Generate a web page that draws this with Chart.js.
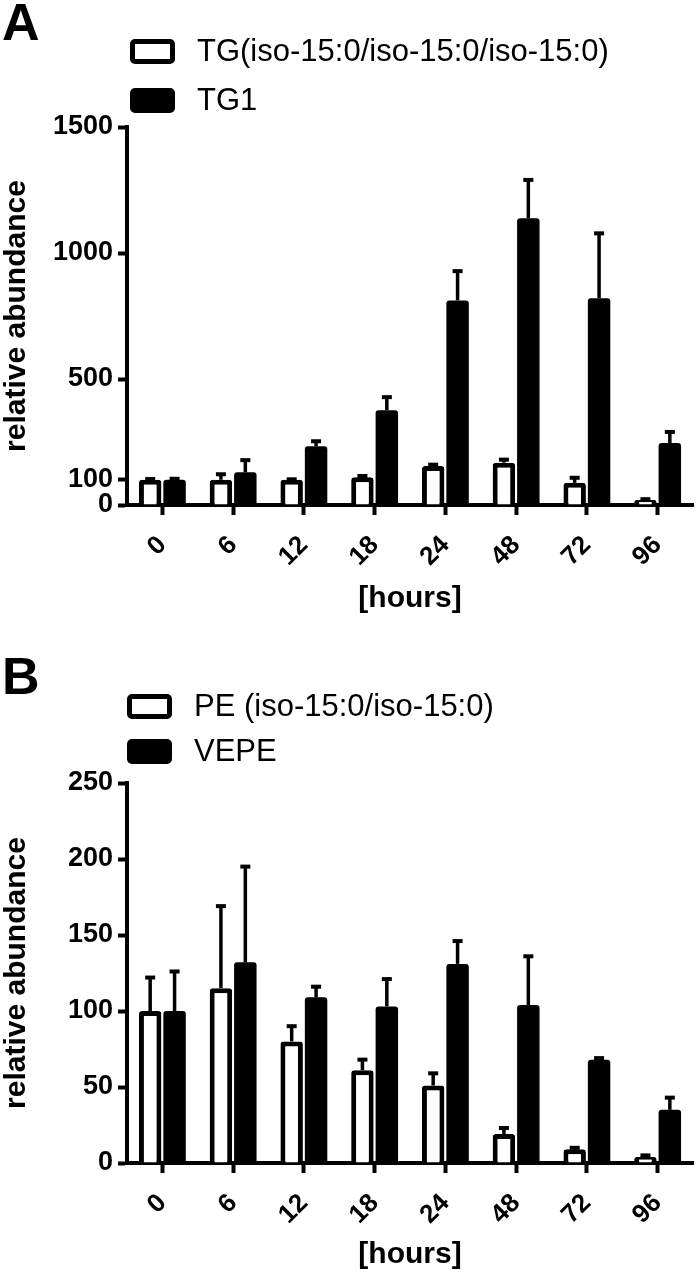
<!DOCTYPE html>
<html>
<head>
<meta charset="utf-8">
<script src="https://cdn.jsdelivr.net/npm/chart.js@4.4.1/dist/chart.umd.min.js"></script>
<style>
  body { margin: 0; background: #fff; font-family: "Liberation Sans", Arial, sans-serif; }
  #wrap { position: relative; width: 700px; height: 1273px; overflow: hidden; }
  canvas { position: absolute; left: 0; }
  .panel { position: absolute; left: 2px; font-weight: bold; font-size: 52px; line-height: 1; z-index: 2; }
  .leg { position: absolute; display: flex; align-items: center; font-size: 31px; height: 26px; z-index: 2; }
  .leg .box { width: 45px; height: 25px; box-sizing: border-box; border: 5px solid #000; border-radius: 5px; margin-right: 22px; background: #fff; }
  .leg .box.fill { background: #000; }
</style>
</head>
<body>
<div id="wrap">
  <canvas id="chartA" width="700" height="630" style="top:0"></canvas>
  <div class="panel" style="top:-4px">A</div>
  <div class="leg" style="left:130px; top:38px"><div class="box"></div>TG(iso-15:0/iso-15:0/iso-15:0)</div>
  <div class="leg" style="left:130px; top:87px"><div class="box fill"></div>TG1</div>

  <canvas id="chartB" width="700" height="643" style="top:630px"></canvas>
  <div class="panel" style="top:650px">B</div>
  <div class="leg" style="left:127px; top:693px"><div class="box"></div>PE (iso-15:0/iso-15:0)</div>
  <div class="leg" style="left:127px; top:738px"><div class="box fill"></div>VEPE</div>
</div>
<script>
// categories
const hours = ["0", "6", "12", "18", "24", "48", "72", "96"];

// panel A
const tgIso = [100, 100, 100, 110, 155, 168, 88, 20];
const tgIsoErr = [3, 22, 2, 5, 5, 12, 20, 3];
const tg1 = [100, 130, 233, 376, 812, 1138, 820, 246];
const tg1Err = [4, 48, 20, 52, 116, 152, 258, 44];
const yTicksA = [0, 100, 500, 1000, 1500];

// panel B
const peIso = [100, 115, 80, 61, 51, 19, 9, 4];
const peIsoErr = [22, 54, 10, 7, 8, 4, 1, 1];
const vepe = [100, 132, 109, 103, 131, 104, 68, 35];
const vepeErr = [26, 63, 7, 18, 15, 32, 1, 8];
const yTicksB = [0, 50, 100, 150, 200, 250];

const FONT = "'Liberation Sans', Arial, sans-serif";

// upper error bars (T shape)
const errorBars = {
    id: "errorBars",
    afterDatasetsDraw(chart) {
        const ctx = chart.ctx;
        const y = chart.scales.y;
        chart.data.datasets.forEach((ds, di) => {
            const meta = chart.getDatasetMeta(di);
            meta.data.forEach((bar, i) => {
                const err = ds.errors[i];
                if (!err) return;
                const top = y.getPixelForValue(ds.data[i] + err);
                ctx.save();
                ctx.strokeStyle = "#000";
                ctx.fillStyle = "#000";
                ctx.lineWidth = 3.5;
                ctx.beginPath();
                ctx.moveTo(bar.x, bar.y);
                ctx.lineTo(bar.x, top);
                ctx.stroke();
                ctx.fillRect(bar.x - 5, top - 2, 10, 4);
                ctx.restore();
            });
        });
    },
};

function makeChart(id, openData, openErr, fillData, fillErr, yTicks, yMax, xHeight, chartTop, titlePad) {
    return new Chart(document.getElementById(id), {
        type: "bar",
        data: {
            labels: hours,
            datasets: [
                {
                    data: openData,
                    errors: openErr,
                    backgroundColor: "#fff",
                    borderColor: "#000",
                    borderWidth: 5,
                    borderRadius: 3,
                },
                {
                    data: fillData,
                    errors: fillErr,
                    backgroundColor: "#000",
                    borderWidth: 0,
                    borderRadius: 3,
                },
            ],
        },
        options: {
            responsive: false,
            animation: false,
            devicePixelRatio: 1,
            categoryPercentage: 0.69,
            barPercentage: 0.92,
            layout: { padding: { top: chartTop, left: 0, right: 7, bottom: 0 } },
            plugins: { legend: { display: false }, tooltip: { enabled: false } },
            scales: {
                x: {
                    grid: { offset: false, drawOnChartArea: false, tickLength: 10, tickWidth: 4, tickColor: "#000" },
                    border: { color: "#000", width: 4 },
                    ticks: { color: "#000", minRotation: 45, maxRotation: 45, padding: 15, font: { family: FONT, size: 26, weight: "bold" } },
                    title: { display: true, text: "[hours]", color: "#000", padding: { top: 0, bottom: titlePad }, font: { family: FONT, size: 30, weight: "bold" } },
                    afterFit(s) { s.height = xHeight; },
                },
                y: {
                    min: 0,
                    max: yMax,
                    grid: { drawOnChartArea: false, tickLength: 9, tickWidth: 4, tickColor: "#000" },
                    border: { color: "#000", width: 4 },
                    ticks: { color: "#000", padding: 5, font: { family: FONT, size: 27, weight: "bold" }, callback: (v) => String(v) },
                    afterBuildTicks(s) { s.ticks = yTicks.map((v) => ({ value: v })); },
                    title: { display: true, text: "relative abundance", color: "#000", padding: 0, font: { family: FONT, size: 30, weight: "bold", lineHeight: 1.1 } },
                    afterFit(s) { s.width = 127; },
                },
            },
        },
        plugins: [errorBars],
    });
}

makeChart("chartA", tgIso, tgIsoErr, tg1, tg1Err, yTicksA, 1500, 125, 127, 13);
makeChart("chartB", peIso, peIsoErr, vepe, vepeErr, yTicksB, 250, 110, 153, 0);
</script>
</body>
</html>
